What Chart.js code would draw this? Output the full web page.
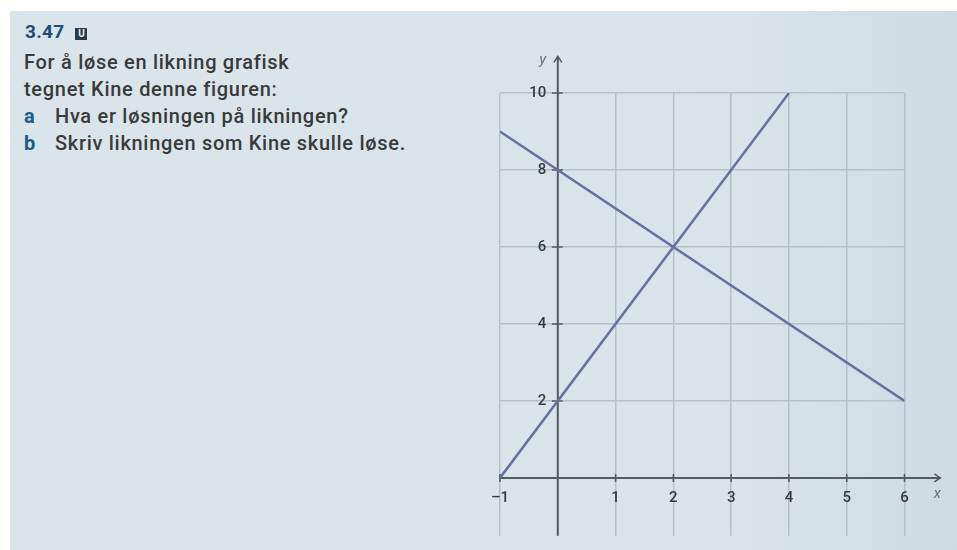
<!DOCTYPE html>
<html>
<head>
<meta charset="utf-8">
<script src="https://cdn.jsdelivr.net/npm/chart.js@4"></script>
<style>
  html, body { margin: 0; padding: 0; background: #fff; }
  body { width: 957px; height: 550px; position: relative; overflow: hidden; font-family: Roboto, "Noto Sans", sans-serif; }
  #panel { position: absolute; left: 10px; top: 11px; right: 0; bottom: 0;
           background: linear-gradient(to right, #d9e5eb 0%, #d8e4ea 78%, #cedbe2 100%); }
  #heading { position: absolute; left: 25px; top: 22px; font-size: 19px; line-height: 19px;
             font-weight: 700; color: #1d4e77; letter-spacing: 0.3px; }
  #heading .tag { display: inline-block; width: 12px; height: 12px; margin-left: 11px; background: #2b3a48;
                  color: #e6edf1; font-size: 10px; line-height: 12px; text-align: center; vertical-align: 1px;
                  letter-spacing: 0; }
  #task { position: absolute; left: 24px; top: 49px; font-size: 20px; line-height: 27px; color: #3a3a3a;
          font-weight: 500; letter-spacing: 0.7px; }
  #task .part { display: inline-block; width: 31px; font-weight: 700; color: #1e5a87; }
  canvas { position: absolute; left: 0; top: 0; }
</style>
</head>
<body>
<div id="panel"></div>
<div id="heading">3.47<span class="tag">U</span></div>
<div id="task">
  <div>For å løse en likning grafisk</div>
  <div>tegnet Kine denne figuren:</div>
  <div><span class="part">a</span>Hva er løsningen på likningen?</div>
  <div><span class="part">b</span>Skriv likningen som Kine skulle løse.</div>
</div>
<canvas id="graph" width="957" height="550"></canvas>
<script>
// the two straight lines (endpoints)
const risingX = [-1, 4];
const risingY = [0, 10];
const fallingX = [-1, 6];
const fallingY = [9, 2];

// axis ticks
const xTicks = [-1, 0, 1, 2, 3, 4, 5, 6];
const yTicks = [0, 2, 4, 6, 8, 10];

const toPoints = (xs, ys) => xs.map((x, i) => ({ x, y: ys[i] }));

const axisColor = '#555a5e';
const gridColor = '#b5c0c8';
const lineColor = '#6671a3';

// axes with arrow heads, tick crosses and the x / y names
const axesPlugin = {
  id: 'axes',
  beforeDatasetsDraw(chart) {
    const { ctx, scales: { x, y } } = chart;
    const x0 = x.getPixelForValue(0);
    const y0 = y.getPixelForValue(0);
    const xEnd = x.getPixelForValue(6.62);
    const yTop = y.getPixelForValue(10.95);
    const xStart = x.getPixelForValue(-1);
    const yBottom = y.getPixelForValue(-1.5);

    ctx.save();
    ctx.strokeStyle = axisColor;
    ctx.lineWidth = 2;
    ctx.beginPath();
    ctx.moveTo(xStart, y0); ctx.lineTo(xEnd, y0);
    ctx.moveTo(x0, yBottom); ctx.lineTo(x0, yTop);
    ctx.stroke();

    // arrow heads
    ctx.lineWidth = 1.6;
    ctx.beginPath();
    ctx.moveTo(xEnd - 6, y0 - 4); ctx.lineTo(xEnd, y0); ctx.lineTo(xEnd - 6, y0 + 4);
    ctx.moveTo(x0 - 4, yTop + 6); ctx.lineTo(x0, yTop); ctx.lineTo(x0 + 4, yTop + 6);
    ctx.stroke();

    // tick crosses
    ctx.beginPath();
    xTicks.filter(v => v !== 0).forEach(v => {
      const px = x.getPixelForValue(v);
      ctx.moveTo(px, y0 - 4); ctx.lineTo(px, y0 + 4);
    });
    yTicks.filter(v => v !== 0).forEach(v => {
      const py = y.getPixelForValue(v);
      ctx.moveTo(x0 - 6, py); ctx.lineTo(x0 + 5, py);
    });
    ctx.stroke();

    // axis names
    ctx.fillStyle = '#6b6f73';
    ctx.font = 'italic 15px Roboto, sans-serif';
    ctx.textAlign = 'center';
    ctx.textBaseline = 'middle';
    ctx.fillText('x', xEnd - 3, y0 + 16);
    ctx.fillText('y', x0 - 15, yTop + 4);
    ctx.restore();
  }
};

const tickFont = { family: 'Roboto', size: 15, weight: '500' };

new Chart(document.getElementById('graph'), {
  type: 'scatter',
  data: {
    datasets: [
      {
        data: toPoints(risingX, risingY),
        showLine: true,
        borderColor: lineColor,
        borderWidth: 2.5,
        pointRadius: 0
      },
      {
        data: toPoints(fallingX, fallingY),
        showLine: true,
        borderColor: lineColor,
        borderWidth: 2.5,
        pointRadius: 0
      }
    ]
  },
  options: {
    responsive: false,
    animation: false,
    layout: { padding: { left: 500, top: 93, right: 52.5, bottom: 14.3 } },
    plugins: { legend: { display: false }, tooltip: { enabled: false } },
    scales: {
      x: {
        type: 'linear',
        position: { y: 0 },
        min: -1,
        max: 6,
        afterBuildTicks: s => { s.ticks = xTicks.map(value => ({ value })); },
        afterFit: s => { s.height = 0; },
        border: { display: false },
        grid: { color: gridColor, lineWidth: 1.5, drawTicks: false },
        ticks: {
          padding: 11,
          color: '#3a3a3a',
          font: tickFont,
          callback: v => (v === 0 ? '' : (v < 0 ? '\u2013' + Math.abs(v) : String(v)))
        }
      },
      y: {
        type: 'linear',
        // labels sit just left of the y axis line (x = 0)
        position: { x: -0.2 },
        min: -1.5,
        max: 10,
        afterBuildTicks: s => { s.ticks = yTicks.map(value => ({ value })); },
        afterFit: s => { s.width = 0; },
        border: { display: false },
        grid: { color: gridColor, lineWidth: 1.5, drawTicks: false },
        ticks: {
          color: '#3a3a3a',
          font: tickFont,
          callback: v => (v === 0 ? '' : String(v))
        }
      }
    }
  },
  plugins: [axesPlugin]
});
</script>
</body>
</html>
